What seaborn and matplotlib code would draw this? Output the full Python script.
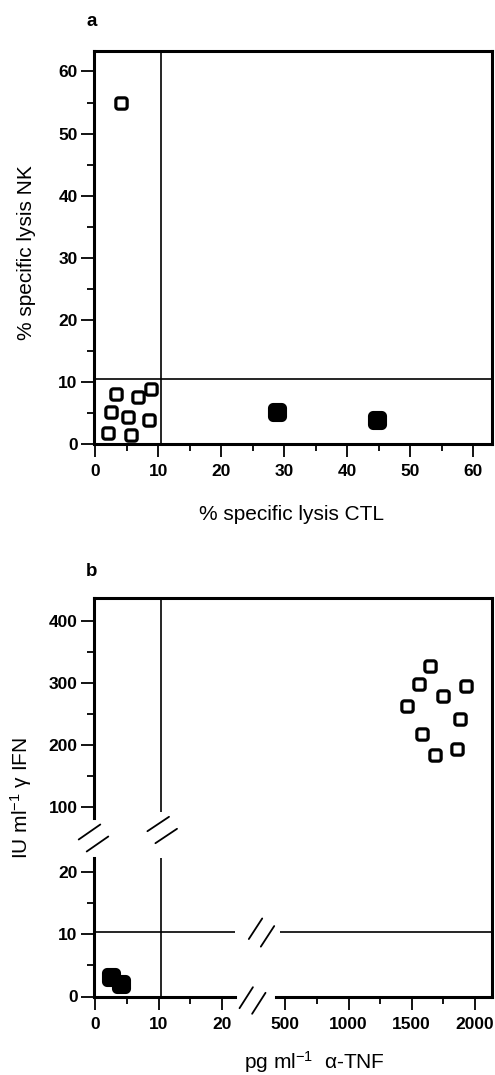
"""Two-panel scatter: NK vs CTL lysis (a) and IFN vs TNF release (b, broken axes)."""

import numpy as np
import matplotlib

matplotlib.use("Agg")
import matplotlib.pyplot as plt
import matplotlib.transforms as mtransforms
from matplotlib.lines import Line2D
from matplotlib.markers import MarkerStyle
from matplotlib.path import Path
import seaborn as sns

# panel a: % specific lysis
a_open_ctl = [4.1, 3.4, 6.8, 8.9, 2.5, 5.3, 8.5, 2.1, 5.7]
a_open_nk = [54.9, 8.1, 7.5, 8.9, 5.1, 4.3, 3.9, 1.8, 1.5]
a_filled_ctl = [28.8, 44.7]
a_filled_nk = [5.2, 3.8]

# panel b: cytokine release
b_open_tnf = [1643, 1559, 1929, 1744, 1459, 1881, 1578, 1855, 1683]
b_open_ifn = [327, 298, 295, 280, 264, 243, 218, 194, 184]
b_filled_tnf = [2.5, 4.1]
b_filled_ifn = [3.1, 2.0]

CUTOFF = 10.4

a_ticks = [0, 10, 20, 30, 40, 50, 60]
a_minor = [5, 15, 25, 35, 45, 55]
b_xticks = [0, 10, 20, 500, 1000, 1500, 2000]
b_xminor = [5, 15, 750, 1250, 1750]
b_yticks = [0, 10, 20, 100, 200, 300, 400]
b_yminor = [5, 15, 150, 250, 350]

# axis breaks of panel b (data units) and scale factors (pixels per unit)
X_LO, X_HI, X_K_LO, X_K_HI, X_GAP = 22.0, 429.0, 6.32, 0.1262, 41.7
Y_LO, Y_HI, Y_K_LO, Y_K_HI, Y_GAP = 22.2, 82.8, 6.25, 0.622, 39.75
B_XLIM = (-0.3, 2135)
B_YLIM = (0, 437)

W, H = 495, 1075
SPINE_LW = 2.2
LINE_LW = 1.2


def rounded_square(r):
    # closed square path with rounded corners, side 1
    pts = []
    c = 0.5 - r
    for cx, cy, a0 in [(c, c, 0), (-c, c, 90), (-c, -c, 180), (c, -c, 270)]:
        for t in np.linspace(a0, a0 + 90, 7):
            pts.append((cx + r * np.cos(np.radians(t)), cy + r * np.sin(np.radians(t))))
    pts.append(pts[0])
    codes = [Path.MOVETO] + [Path.LINETO] * (len(pts) - 2) + [Path.CLOSEPOLY]
    return MarkerStyle(Path(pts, codes))


def piecewise(lo, hi, k_lo, k_hi, gap):
    b1 = lo * k_lo
    b2 = b1 + gap

    def fwd(v):
        v = np.asarray(v, dtype=float)
        return np.where(v <= lo, v * k_lo,
                        np.where(v >= hi, b2 + (v - hi) * k_hi,
                                 b1 + (v - lo) / (hi - lo) * gap))

    def inv(u):
        u = np.asarray(u, dtype=float)
        return np.where(u <= b1, u / k_lo,
                        np.where(u >= b2, hi + (u - b2) / k_hi,
                                 lo + (u - b1) / gap * (hi - lo)))

    return fwd, inv


def px_axes(fig, left, right, top, bottom):
    return fig.add_axes([left / W, 1 - bottom / H, (right - left) / W, (bottom - top) / H])


def style_ticks(ax):
    ax.tick_params(which="major", direction="out", length=9.5, width=1.3, labelsize=12.5)
    ax.tick_params(which="minor", direction="out", length=5, width=1.3)
    ax.tick_params(axis="y", which="major", pad=2)
    ax.tick_params(axis="x", which="major", pad=5)
    plt.setp(ax.get_xticklabels() + ax.get_yticklabels(), fontweight="bold")


OPEN_MARK = rounded_square(0.22)
FILLED_MARK = rounded_square(0.25)


def squares(ax, x, y, filled):
    if filled:
        sns.scatterplot(x=x, y=y, ax=ax, marker=FILLED_MARK, s=150, color="black",
                        edgecolor="black", linewidth=1.5, zorder=4)
    else:
        sns.scatterplot(x=x, y=y, ax=ax, marker=OPEN_MARK, s=66, color="white",
                        edgecolor="black", linewidth=2.3, zorder=4)


def slashes(fig, cx, cy, half, sep):
    # "//" break mark around display point (cx, cy); sizes in pixels
    hx, hy = half
    sx, sy = sep
    for k in (-1, 1):
        x0, y0 = cx + k * sx, cy + k * sy
        fig.add_artist(Line2D([x0 - hx, x0 + hx], [y0 - hy, y0 + hy],
                              transform=mtransforms.IdentityTransform(),
                              color="black", lw=1.3))


sns.set_style("ticks", {"axes.edgecolor": "black", "xtick.color": "black",
                        "ytick.color": "black", "text.color": "black",
                        "axes.labelcolor": "black"})
plt.rcParams["font.family"] = ["Liberation Sans", "DejaVu Sans"]
plt.rcParams["mathtext.fontset"] = "custom"
plt.rcParams["mathtext.rm"] = "Liberation Sans"
plt.rcParams["mathtext.default"] = "regular"

fig = plt.figure(figsize=(W / 100, H / 100), dpi=100)
fig.patch.set_facecolor("white")

# ---- panel a ----
ax = px_axes(fig, 93.5, 492, 51, 444)
ax.axvline(CUTOFF, color="black", lw=LINE_LW, zorder=2)
ax.axhline(CUTOFF, color="black", lw=LINE_LW, zorder=2)
squares(ax, a_open_ctl, a_open_nk, False)
squares(ax, a_filled_ctl, a_filled_nk, True)
ax.set_xlim(-0.25, 63.0)
ax.set_ylim(0, 63.3)
ax.set_xticks(a_ticks)
ax.set_yticks(a_ticks)
ax.set_xticks(a_minor, minor=True)
ax.set_yticks(a_minor, minor=True)
for sp in ax.spines.values():
    sp.set_linewidth(SPINE_LW)
style_ticks(ax)
ax.set_xlabel("% specific lysis CTL", fontsize=15, va="center")
ax.xaxis.set_label_coords(0.496, -(515 - 444) / 393)
ax.set_ylabel("% specific lysis NK", fontsize=15, va="center", ha="center")
ax.yaxis.set_label_coords((27 - 93.5) / 398.5, 0.486)
fig.text(92 / W, 1 - 22 / H, "a", ha="center", va="center", fontsize=13.5, fontweight="bold")

# ---- panel b ----
bx = px_axes(fig, 93.5, 492, 598, 996.5)
bx.set_xscale("function", functions=piecewise(X_LO, X_HI, X_K_LO, X_K_HI, X_GAP))
bx.set_yscale("function", functions=piecewise(Y_LO, Y_HI, Y_K_LO, Y_K_HI, Y_GAP))
bx.set_xlim(*B_XLIM)
bx.set_ylim(*B_YLIM)

bx.vlines(CUTOFF, 0, Y_LO, color="black", lw=LINE_LW, zorder=2)
bx.vlines(CUTOFF, 92, B_YLIM[1], color="black", lw=LINE_LW, zorder=2)
bx.hlines(CUTOFF, B_XLIM[0], X_LO, color="black", lw=LINE_LW, zorder=2)
bx.hlines(CUTOFF, 455, B_XLIM[1], color="black", lw=LINE_LW, zorder=2)
squares(bx, b_open_tnf, b_open_ifn, False)
squares(bx, b_filled_tnf, b_filled_ifn, True)
bx.set_xlim(*B_XLIM)
bx.set_ylim(*B_YLIM)

bx.set_xticks(b_xticks)
bx.set_yticks(b_yticks)
bx.set_xticks(b_xminor, minor=True)
bx.set_yticks(b_yminor, minor=True)
for sp in bx.spines.values():
    sp.set_linewidth(SPINE_LW)
bx.spines[["left", "bottom"]].set_visible(False)
spine_kw = dict(color="black", lw=SPINE_LW, solid_capstyle="projecting", clip_on=False, zorder=5)
bx.plot([0, 0], [0, Y_LO], transform=bx.get_yaxis_transform(), **spine_kw)
bx.plot([0, 0], [Y_HI, B_YLIM[1]], transform=bx.get_yaxis_transform(), **spine_kw)
bx.plot([B_XLIM[0], X_LO], [0, 0], transform=bx.get_xaxis_transform(), **spine_kw)
bx.plot([X_HI, B_XLIM[1]], [0, 0], transform=bx.get_xaxis_transform(), **spine_kw)
style_ticks(bx)
bx.set_xlabel("pg ml$^{-1}$  α-TNF", fontsize=15, va="center")
bx.xaxis.set_label_coords(0.554, -(1062 - 996.5) / 398.5)
bx.set_ylabel("IU ml$^{-1}$ γ IFN", fontsize=15, va="center", ha="center")
bx.yaxis.set_label_coords((21 - 93.5) / 398.5, 0.498)
fig.text(92 / W, 1 - 572 / H, "b", ha="center", va="center", fontsize=13.5, fontweight="bold")

# break marks
y_mid = (Y_LO + Y_HI) / 2
x_mid = (X_LO + X_HI) / 2
left_x = bx.transAxes.transform((0, 0))[0]
_, gy = bx.transData.transform((1, y_mid))
slashes(fig, left_x, gy, (10.8, 7.5), (4, -6))
vx, _ = bx.transData.transform((CUTOFF, 1))
slashes(fig, vx + 1, gy + 8, (10.8, 7.2), (4, -6))
gx, by = bx.transData.transform((x_mid, 0))
slashes(fig, gx - 3, by - 4, (6.7, 10.5), (6.3, -2.8))
_, hy = bx.transData.transform((1, CUTOFF))
slashes(fig, gx + 6, hy - 1, (6.7, 10.3), (6, -3.8))

fig.savefig("out.png", dpi=100, facecolor="white")
